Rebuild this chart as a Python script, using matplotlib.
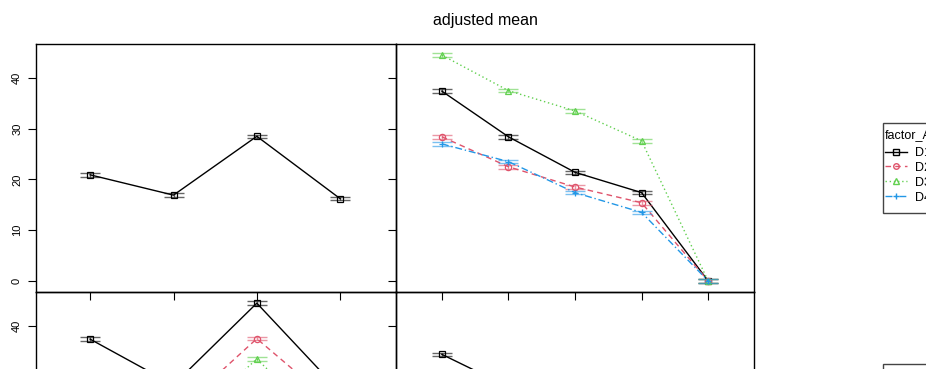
import matplotlib
matplotlib.use("Agg")
import matplotlib.pyplot as plt
from matplotlib.patches import Rectangle
import numpy as np

plt.rcParams['font.family'] = ['Liberation Sans', 'DejaVu Sans']

# cell means: rows = factor_A (D1..D4), columns = factor_B levels 1..5
a_levels = ["D1", "D2", "D3", "D4"]
b_levels = ["B1", "B2", "B3", "B4", "B5"]
cell_means = [
    [37.4, 28.4, 21.4, 17.4, 0.0],
    [28.4, 22.5, 18.5, 15.4, 0.0],
    [44.5, 37.5, 33.5, 27.6, 0.0],
    [27.0, 23.5, 17.4, 13.5, 0.0],
]
# main effects
a_means = [20.9, 16.9, 28.5, 16.2]
b_means = [34.4, 28.0, 22.7, 18.5, 0.0]
half_ci = 0.35
y_ticks = [0, 10, 20, 30, 40]

colors = ["black", "#DF536B", "#61D04F", "#2297E6", "#28E2E5"]
styles = ["-", (0, (4, 3)), (0, (1, 2)), (0, (5, 2, 1, 2)), (0, (8, 3))]
markers = ["s", "o", "^", "+", "x"]

W, H = 926, 369
fig = plt.figure(figsize=(W / 100, H / 100), dpi=100)


def px_axes(x0, x1, ytop, ybot):
    return fig.add_axes([x0 / W, (H - ybot) / H, (x1 - x0) / W, (ybot - ytop) / H])


ax_tl = px_axes(36, 396, 44, 292)
ax_tr = px_axes(396, 754, 44, 292)
ax_bl = px_axes(36, 396, 292, 540)
ax_br = px_axes(396, 754, 292, 540)


def draw(ax, x, y, k):
    ax.errorbar(x, y, yerr=half_ci, fmt='none', ecolor=colors[k], elinewidth=1,
                capsize=7.2, capthick=1, alpha=0.6)
    ax.plot(x, y, color=colors[k], linestyle=styles[k], linewidth=1,
            marker=markers[k], markersize=4.5, markerfacecolor='none',
            markeredgewidth=0.9)


xa = np.arange(1, len(a_levels) + 1)
xb = np.arange(1, len(b_levels) + 1)

draw(ax_tl, xa, a_means, 0)
for i in range(len(a_levels)):
    draw(ax_tr, xb, cell_means[i], i)
for j in range(len(b_levels)):
    draw(ax_bl, xa, [row[j] for row in cell_means], j)
draw(ax_br, xb, b_means, 0)

for ax, xs in [(ax_tl, xa), (ax_bl, xa), (ax_tr, xb), (ax_br, xb)]:
    ax.set_facecolor('none')
    ax.set_ylim(-2.2, 46.7)
    ax.set_yticks(y_ticks)
    ax.set_xticks(xs)
    ax.tick_params(axis='both', direction='out', length=6, width=0.8,
                   labelsize=8, pad=4, labelbottom=False)
    for s in ax.spines.values():
        s.set_linewidth(1)
ax_tl.set_xlim(0.35, 4.67)
ax_bl.set_xlim(0.35, 4.67)
ax_tr.set_xlim(0.31, 5.69)
ax_br.set_xlim(0.31, 5.69)
# lower row: only the top label falls inside the picture
ax_bl.set_yticklabels([str(t) if t >= 40 else "" for t in y_ticks])
for ax in (ax_tl, ax_bl):
    for lab in ax.get_yticklabels():
        lab.set_rotation(90)
        lab.set_va('center')
for ax in (ax_tr, ax_br):
    ax.tick_params(labelleft=False)
for ax in (ax_bl, ax_br):
    ax.tick_params(axis='x', bottom=False)

fig.text(485 / W, (H - 20) / H, "adjusted mean", ha='center', va='center', fontsize=11.5)


def key_box(title, labels, n, top, bottom):
    # framed key: box, title line, then one row per level
    fig.add_artist(Rectangle((883 / W, (H - bottom) / H), 80 / W, (bottom - top) / H,
                             transform=fig.transFigure, facecolor='white',
                             edgecolor='#444444', linewidth=1, zorder=3))
    fig.text(885 / W, (H - top - 12) / H, title, ha='left', va='center',
             fontsize=9, zorder=4)
    handles = [plt.Line2D([], [], color=colors[k], linestyle=styles[k], marker=markers[k],
                          markersize=4, markerfacecolor='none', linewidth=1)
               for k in range(n)]
    leg = fig.legend(handles, labels, loc='upper left',
                     bbox_to_anchor=(885 / W, (H - top - 24) / H), borderaxespad=0,
                     fontsize=9, numpoints=1, handlelength=1.75, handletextpad=0.65,
                     labelspacing=0.23, borderpad=0, frameon=False)
    leg.set_zorder(5)


key_box("factor_A", a_levels, len(a_levels), 123, 213)
key_box("factor_B", b_levels, len(b_levels), 364, 460)

fig.savefig("out.png", dpi=100)
